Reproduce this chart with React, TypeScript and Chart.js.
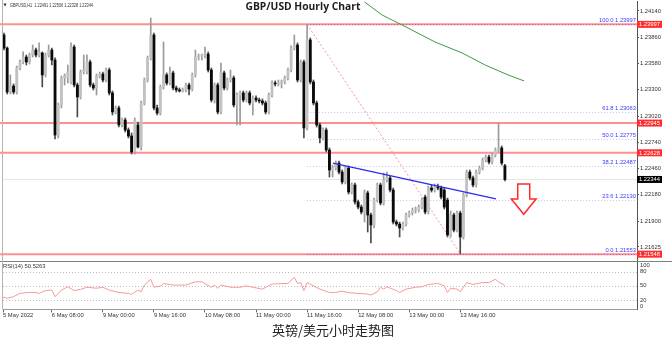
import React, { useEffect, useRef } from "react";
import { Chart, registerables } from "chart.js";

Chart.register(...registerables);

const symbolName = "GBPUSD,H1";
const chartTitle = "GBP/USD Hourly Chart";
const caption = "英镑/美元小时走势图";

const opens = [
  1.23884, 1.23745, 1.23276, 1.2334, 1.23276, 1.23532, 1.23596, 1.23649, 1.23596, 1.23671,
  1.23724, 1.23671, 1.23692, 1.23458, 1.23671, 1.23724, 1.23617, 1.22818, 1.23138, 1.23426,
  1.23426, 1.23383, 1.23756, 1.23351, 1.23223, 1.23489, 1.23489, 1.23596, 1.23351, 1.23319,
  1.23447, 1.23468, 1.23404, 1.23511, 1.23266, 1.23063, 1.23106, 1.22925, 1.22978, 1.22871,
  1.22807, 1.22637, 1.22925, 1.2269, 1.23159, 1.23404, 1.23639, 1.23884, 1.23106, 1.23052,
  1.2333, 1.23458, 1.23372, 1.23479, 1.23319, 1.23298, 1.23287, 1.23298, 1.23351, 1.23308,
  1.23458, 1.23649, 1.2366, 1.23671, 1.23681, 1.23511, 1.23191, 1.23351, 1.23063, 1.23479,
  1.23319, 1.23404, 1.23426, 1.23138, 1.23244, 1.23266, 1.23191, 1.23266, 1.23159, 1.23212,
  1.23191, 1.2318, 1.23159, 1.23063, 1.23244, 1.23372, 1.23362, 1.23372, 1.23383, 1.23426,
  1.23511, 1.23745, 1.23777, 1.23404, 1.23596, 1.22893, 1.23831, 1.23383, 1.23159, 1.22925,
  1.22786, 1.22871, 1.22658, 1.22445, 1.22466, 1.22519, 1.22423, 1.22317, 1.22466, 1.2221,
  1.22285, 1.22104, 1.2205, 1.21997, 1.222, 1.21965, 1.21859, 1.22125, 1.22285, 1.22093,
  1.22338, 1.2236, 1.22232, 1.2189, 1.21869, 1.21827, 1.21869, 1.21965, 1.21986, 1.22018,
  1.22018, 1.2205, 1.22157, 1.21997, 1.22253, 1.22232, 1.22264, 1.22253, 1.22232, 1.22125,
  1.21752, 1.21965, 1.21805, 1.21986, 1.21731, 1.22178, 1.22423, 1.2236, 1.22285, 1.22423,
  1.22466, 1.22551, 1.22583, 1.2253, 1.22605, 1.22658, 1.2268, 1.22491,
];

const highs = [
  1.23905, 1.23756, 1.23458, 1.23362, 1.23553, 1.23617, 1.23703, 1.23671, 1.23692, 1.23777,
  1.23745, 1.23799, 1.23703, 1.23692, 1.23777, 1.23745, 1.23639, 1.23159, 1.23447, 1.23468,
  1.23564, 1.23799, 1.23777, 1.23372, 1.23511, 1.23671, 1.23671, 1.23617, 1.23372, 1.23468,
  1.23489, 1.23489, 1.23532, 1.23532, 1.23287, 1.23127, 1.23127, 1.22999, 1.22999, 1.22893,
  1.22839, 1.22999, 1.22956, 1.2318, 1.23426, 1.2366, 1.24065, 1.23905, 1.23138, 1.23351,
  1.23809, 1.23479, 1.23543, 1.235, 1.2334, 1.23319, 1.23319, 1.23372, 1.23372, 1.23479,
  1.23724, 1.23681, 1.23681, 1.23756, 1.23703, 1.23532, 1.23372, 1.23372, 1.23585, 1.235,
  1.23426, 1.23511, 1.23447, 1.23266, 1.23287, 1.23287, 1.23287, 1.23287, 1.23234, 1.23234,
  1.23212, 1.23202, 1.2318, 1.23266, 1.23394, 1.23394, 1.23404, 1.23404, 1.23447, 1.23532,
  1.23767, 1.23884, 1.23799, 1.23617, 1.23617, 1.23997, 1.23852, 1.23404, 1.2318, 1.22946,
  1.22893, 1.22893, 1.2268, 1.22498, 1.22541, 1.22541, 1.22445, 1.22487, 1.22487, 1.22306,
  1.22306, 1.22125, 1.22072, 1.22232, 1.22221, 1.21986, 1.22146, 1.22306, 1.22306, 1.22413,
  1.22423, 1.22381, 1.22253, 1.21912, 1.2189, 1.2189, 1.21986, 1.22008, 1.2204, 1.2205,
  1.22072, 1.22146, 1.22178, 1.22274, 1.22285, 1.22296, 1.22296, 1.22274, 1.22253, 1.22146,
  1.22008, 1.21986, 1.22008, 1.22008, 1.222, 1.22445, 1.22445, 1.22381, 1.22445, 1.22487,
  1.22573, 1.22605, 1.22605, 1.22626, 1.2268, 1.22945, 1.22701, 1.22506,
];

const lows = [
  1.23724, 1.23255, 1.23255, 1.23255, 1.23255, 1.23511, 1.23575, 1.23564, 1.23575, 1.23649,
  1.23649, 1.23649, 1.2333, 1.23436, 1.23649, 1.23564, 1.22775, 1.22786, 1.23106, 1.23351,
  1.23372, 1.23362, 1.2333, 1.2301, 1.23202, 1.23468, 1.23468, 1.2333, 1.23298, 1.23244,
  1.23426, 1.23383, 1.23383, 1.23244, 1.23031, 1.23042, 1.22903, 1.22903, 1.2285, 1.22786,
  1.22615, 1.22615, 1.2268, 1.22658, 1.23138, 1.23383, 1.23617, 1.23084, 1.23031, 1.23031,
  1.23308, 1.23351, 1.23351, 1.23298, 1.23276, 1.23276, 1.23276, 1.23276, 1.23244, 1.23287,
  1.23436, 1.23617, 1.23617, 1.23639, 1.23489, 1.2317, 1.23159, 1.23042, 1.23042, 1.23298,
  1.23298, 1.23383, 1.23116, 1.22925, 1.22925, 1.2317, 1.2317, 1.23138, 1.23031, 1.2317,
  1.23159, 1.23138, 1.23042, 1.23042, 1.23223, 1.2334, 1.2334, 1.23319, 1.23362, 1.23404,
  1.23489, 1.23724, 1.23383, 1.23383, 1.22786, 1.22871, 1.23362, 1.23138, 1.22903, 1.22733,
  1.22765, 1.22637, 1.2237, 1.2237, 1.22445, 1.22402, 1.22296, 1.22296, 1.22189, 1.22189,
  1.22082, 1.22029, 1.21976, 1.2189, 1.21784, 1.21667, 1.21827, 1.22104, 1.22072, 1.22072,
  1.22317, 1.2221, 1.21869, 1.21848, 1.21731, 1.21805, 1.21848, 1.21944, 1.21965, 1.21986,
  1.21997, 1.22029, 1.21976, 1.21976, 1.2221, 1.2221, 1.22232, 1.22136, 1.22029, 1.21731,
  1.21731, 1.21784, 1.21784, 1.21553, 1.21709, 1.22157, 1.22338, 1.22264, 1.22264, 1.22402,
  1.22445, 1.2253, 1.22509, 1.22509, 1.22583, 1.22637, 1.22498, 1.22328,
];

const closes = [
  1.23745, 1.23276, 1.2334, 1.23276, 1.23532, 1.23596, 1.23649, 1.23596, 1.23671, 1.23724,
  1.23671, 1.23703, 1.23458, 1.23671, 1.23724, 1.23617, 1.22818, 1.23138, 1.23426, 1.23447,
  1.23489, 1.23756, 1.23351, 1.23223, 1.23489, 1.23511, 1.23596, 1.23351, 1.23319, 1.23447,
  1.23468, 1.23404, 1.23511, 1.23266, 1.23063, 1.23106, 1.22925, 1.22978, 1.22871, 1.22807,
  1.22637, 1.22978, 1.2269, 1.23159, 1.23404, 1.23639, 1.23884, 1.23106, 1.23052, 1.2333,
  1.23458, 1.23372, 1.23479, 1.23319, 1.23298, 1.23287, 1.23298, 1.23351, 1.23308, 1.23458,
  1.23649, 1.2366, 1.23671, 1.23681, 1.23511, 1.23191, 1.23351, 1.23063, 1.23479, 1.23319,
  1.23404, 1.23426, 1.23138, 1.23244, 1.23266, 1.23191, 1.23266, 1.23159, 1.23212, 1.23191,
  1.2318, 1.23159, 1.23063, 1.23244, 1.23372, 1.23362, 1.23372, 1.23383, 1.23426, 1.23511,
  1.23745, 1.23777, 1.23404, 1.23596, 1.22893, 1.23831, 1.23383, 1.23159, 1.22925, 1.22786,
  1.22871, 1.22658, 1.22445, 1.22466, 1.22519, 1.22423, 1.22317, 1.22466, 1.2221, 1.22285,
  1.22104, 1.2205, 1.21997, 1.222, 1.21965, 1.21859, 1.22125, 1.22285, 1.22093, 1.22338,
  1.2236, 1.22232, 1.2189, 1.21869, 1.21827, 1.21869, 1.21965, 1.21986, 1.22018, 1.22029,
  1.2205, 1.22125, 1.21997, 1.22253, 1.22232, 1.22264, 1.22253, 1.22157, 1.2205, 1.21752,
  1.21965, 1.21805, 1.21986, 1.21731, 1.22178, 1.22423, 1.2236, 1.22285, 1.22423, 1.22466,
  1.22551, 1.22583, 1.2253, 1.22605, 1.22658, 1.2268, 1.22519, 1.22344,
];

const dateTickIdx = [-0.3, 15, 31, 47, 63, 79, 95, 111, 127, 143];
const dateTickLabels = [
  "5 May 2022", "6 May 08:00", "9 May 00:00", "9 May 16:00", "10 May 08:00",
  "11 May 00:00", "11 May 16:00", "12 May 08:00", "13 May 00:00", "13 May 16:00",
];
const priceTicks = [1.2414, 1.2386, 1.2358, 1.233, 1.2302, 1.2274, 1.2246, 1.2218, 1.219, 1.21625];
const redLevels = [1.23997, 1.22945, 1.22628, 1.21548];
const fibPcts = [100.0, 61.8, 50.0, 38.2, 23.6, 0.0];
const fibPrices = [1.23997, 1.23063, 1.22775, 1.22487, 1.2213, 1.21553];
const fibAnchorIdx = [95, 143];
const fibAnchorPrice = [1.23997, 1.21553];
const trendIdx = [103.1, 154.2];
const trendPrice = [1.22519, 1.22136];
const maIdx = [113, 118.5, 124.8, 135.1, 143.6, 150.8, 158.0, 163.0];
const maPrice = [1.24236, 1.24097, 1.2399, 1.23809, 1.23692, 1.23564, 1.23458, 1.23394];
const bidPrice = 1.22344;
const arrowIdx = 162.9;
const arrowPrice = [1.22296, 1.22136, 1.21973]; // top, neck, tip

const rsiIdx = [
  -0.6, 1, 3, 5, 8, 10, 11, 13, 15, 16, 18, 20, 22, 24, 26, 29, 31, 33, 36, 39,
  40, 42, 43, 44, 46, 47, 49, 50, 53, 57, 60, 62, 65, 66, 67, 68, 71, 74, 76, 78,
  81, 84, 89, 91, 92, 93, 94, 95, 99, 102, 104, 106, 108, 111, 114, 115, 117, 118, 119, 120,
  123, 124, 126, 129, 131, 133, 136, 138, 139, 140, 142, 143, 145, 147, 150, 152, 154, 155, 157,
];
const rsiVals = [
  27, 23.5, 27, 34, 36, 36, 34, 40, 41, 27, 41, 48, 40, 42.5, 47, 45, 47, 41, 36, 34,
  32, 41, 37.5, 51.7, 64, 47, 49.6, 55, 51.7, 51.7, 58.7, 58.7, 47, 51.7, 44.7, 51.7, 47, 47, 50, 47,
  43, 53.8, 55.3, 68, 55.3, 57, 40, 57, 43, 36, 36, 39, 35.4, 34, 32.6, 30.5, 37.5, 47, 43, 48,
  40, 36, 43, 47, 48, 53, 55, 50, 36, 45, 43, 37.5, 57, 53, 57, 57, 64, 58.7, 50.5,
];
const rsiLevels = [20, 50, 80];
const rsiAxisTicks = [100, 80, 50, 20, 0];
const rsiLast = "50.5263";

const AXIS_FONT = '"Liberation Sans", Arial, sans-serif';
const TXT = 5.8;
const X_MIN = -0.31;
const X_MAX = 198.4;

function seg(ctx: any, x1: number, y1: number, x2: number, y2: number) {
  ctx.beginPath();
  ctx.moveTo(x1, y1);
  ctx.lineTo(x2, y2);
  ctx.stroke();
}

const mainOverlay = {
  id: "mainOverlay",
  beforeDatasetsDraw(chart: any) {
    const { ctx, chartArea: ca, scales } = chart;
    const xs = scales.x;
    const ys = scales.y;
    ctx.save();
    ctx.beginPath();
    ctx.rect(0, ca.top, ca.right, ca.bottom - ca.top);
    ctx.clip();
    ctx.strokeStyle = "#e6e6e6";
    ctx.lineWidth = 1;
    const by = Math.round(ys.getPixelForValue(bidPrice)) + 0.5;
    seg(ctx, ca.left, by, ca.right, by);
    ctx.strokeStyle = "rgba(255,85,85,0.65)";
    ctx.lineWidth = 2;
    redLevels.forEach((p) => {
      const yy = ys.getPixelForValue(p);
      seg(ctx, 0, yy, ca.right, yy);
    });
    const fx = xs.getPixelForValue(fibAnchorIdx[0]);
    ctx.lineWidth = 1;
    ctx.setLineDash([1, 2]);
    fibPrices.forEach((p, i) => {
      const yy = Math.round(ys.getPixelForValue(p)) + 0.5;
      ctx.strokeStyle =
        fibPcts[i] === 100 || fibPcts[i] === 0 ? "rgba(150,70,210,0.75)" : "#c6c6f2";
      seg(ctx, fx, yy, ca.right, yy);
    });
    ctx.restore();
  },
  afterDatasetsDraw(chart: any) {
    const { ctx, scales } = chart;
    const xs = scales.x;
    const ys = scales.y;
    const cx = xs.getPixelForValue(arrowIdx);
    const yTop = ys.getPixelForValue(arrowPrice[0]);
    const yNeck = ys.getPixelForValue(arrowPrice[1]);
    const yTip = ys.getPixelForValue(arrowPrice[2]);
    ctx.save();
    ctx.beginPath();
    ctx.moveTo(cx - 6, yTop);
    ctx.lineTo(cx + 6, yTop);
    ctx.lineTo(cx + 6, yNeck);
    ctx.lineTo(cx + 12.4, yNeck);
    ctx.lineTo(cx, yTip);
    ctx.lineTo(cx - 12.4, yNeck);
    ctx.lineTo(cx - 6, yNeck);
    ctx.closePath();
    ctx.fillStyle = "#ffffff";
    ctx.fill();
    ctx.strokeStyle = "#ff2a2a";
    ctx.lineWidth = 1.5;
    ctx.lineJoin = "miter";
    ctx.stroke();
    ctx.restore();
  },
  afterDraw(chart: any) {
    const { ctx, chartArea: ca, scales, width } = chart;
    const ys = scales.y;
    ctx.save();
    ctx.font = `${TXT}px ${AXIS_FONT}`;
    ctx.fillStyle = "#3a3aff";
    ctx.textAlign = "right";
    ctx.textBaseline = "alphabetic";
    fibPrices.forEach((p, i) => {
      const yy = ys.getPixelForValue(p);
      ctx.fillText(`${fibPcts[i].toFixed(1)} ${p.toFixed(5)}`, ca.right - 1, yy - 2);
    });
    const box = (p: number, bg: string) => {
      const yy = ys.getPixelForValue(p);
      ctx.fillStyle = bg;
      ctx.fillRect(ca.right, yy - 3.5, 25, 7);
      ctx.fillStyle = "#ffffff";
      ctx.textAlign = "left";
      ctx.textBaseline = "middle";
      ctx.fillText(p.toFixed(5), ca.right + 2, yy + 0.3);
    };
    redLevels.forEach((p) => box(p, "#ff2d2d"));
    box(bidPrice, "#000000");
    ctx.fillStyle = "#808080";
    ctx.fillRect(0, ca.bottom, width, 1.5);
    ctx.fillStyle = "#b4b4b4";
    ctx.fillRect(2, 0, 1, ca.bottom);
    ctx.fillStyle = "#1e1e1e";
    ctx.font = 'bold 10.3px "Open Sans", sans-serif';
    ctx.textAlign = "left";
    ctx.textBaseline = "alphabetic";
    ctx.fillText(chartTitle, 245.5, 9.5);
    const last = closes.length - 1;
    const head = `${symbolName}  ${opens[last].toFixed(5)} ${highs[last].toFixed(5)} ${lows[last].toFixed(5)} ${closes[last].toFixed(5)}`;
    ctx.fillStyle = "#333333";
    ctx.font = `5.2px ${AXIS_FONT}`;
    const w = ctx.measureText(head).width;
    ctx.save();
    ctx.translate(10, 6.6);
    ctx.scale(83 / w, 1);
    ctx.fillText(head, 0, 0);
    ctx.restore();
    ctx.font = '4px "DejaVu Sans", sans-serif';
    ctx.fillText("▼", 3.5, 6.2);
    ctx.restore();
  },
};

const rsiOverlay = {
  id: "rsiOverlay",
  beforeDatasetsDraw(chart: any) {
    const { ctx, chartArea: ca, scales } = chart;
    const ys = scales.y;
    ctx.save();
    ctx.strokeStyle = "#bdbdbd";
    ctx.lineWidth = 1;
    ctx.setLineDash([1, 2]);
    rsiLevels.forEach((v) => {
      const yy = Math.round(ys.getPixelForValue(v)) + 0.5;
      seg(ctx, ca.left, yy, ca.right, yy);
    });
    ctx.restore();
  },
  afterDraw(chart: any) {
    const { ctx, chartArea: ca, scales } = chart;
    const ys = scales.y;
    ctx.save();
    ctx.font = `${TXT}px ${AXIS_FONT}`;
    ctx.fillStyle = "#333333";
    ctx.textAlign = "left";
    ctx.textBaseline = "middle";
    rsiAxisTicks.forEach((v) => {
      let yy = ys.getPixelForValue(v);
      yy = Math.max(ca.top + 2.8, Math.min(ca.bottom - 3, yy));
      ctx.fillText(String(v), ca.right + 3, yy);
    });
    ctx.fillText(`RSI(14) ${rsiLast}`, 3, ca.top + 4.4);
    ctx.fillStyle = "#b4b4b4";
    ctx.fillRect(2, 0, 1, ca.bottom);
    ctx.restore();
  },
};

export default function App() {
  const mainRef = useRef<HTMLCanvasElement>(null);
  const rsiRef = useRef<HTMLCanvasElement>(null);

  useEffect(() => {
    const idx = closes.map((_, i) => i);
    const main = new Chart(mainRef.current as HTMLCanvasElement, {
      type: "bar",
      data: {
        datasets: [
          {
            type: "line",
            data: maIdx.map((x, i) => ({ x, y: maPrice[i] })),
            borderColor: "#3d9b3d",
            borderWidth: 1,
            pointRadius: 0,
            order: 0,
          } as any,
          {
            type: "line",
            data: trendIdx.map((x, i) => ({ x, y: trendPrice[i] })),
            borderColor: "#2b2bf0",
            borderWidth: 1.3,
            pointRadius: 0,
            order: 0,
          } as any,
          {
            type: "line",
            data: fibAnchorIdx.map((x, i) => ({ x, y: fibAnchorPrice[i] })),
            borderColor: "rgba(255,110,110,0.75)",
            borderDash: [2, 2],
            borderWidth: 1,
            pointRadius: 0,
            order: 3,
          } as any,
          {
            data: idx.map((i) => ({ x: i, y: [lows[i], highs[i]] })),
            backgroundColor: idx.map((i) => (closes[i] >= opens[i] ? "#9a9a9a" : "#4a4a4a")),
            barThickness: 1,
            grouped: false,
            order: 2,
          } as any,
          {
            data: idx.map((i) => ({ x: i, y: [opens[i], closes[i]] })),
            backgroundColor: idx.map((i) => (closes[i] >= opens[i] ? "#c2c2c2" : "#0a0a0a")),
            barThickness: 2.2,
            minBarLength: 1,
            grouped: false,
            order: 1,
          } as any,
        ],
      },
      options: {
        animation: false,
        responsive: false,
        maintainAspectRatio: false,
        layout: { padding: { left: 3, top: 1, right: 0, bottom: 1 } },
        plugins: { legend: { display: false }, tooltip: { enabled: false } },
        scales: {
          x: { type: "linear", min: X_MIN, max: X_MAX, display: false, offset: false },
          y: {
            type: "linear",
            position: "right",
            min: 1.21475,
            max: 1.24246,
            afterFit: (s: any) => {
              s.width = 35;
              s.paddingTop = 0;
              s.paddingBottom = 0;
            },
            afterBuildTicks: (s: any) => {
              s.ticks = priceTicks.map((v) => ({ value: v }));
            },
            ticks: {
              autoSkip: false,
              callback: (v: any) => Number(v).toFixed(5),
              font: { family: AXIS_FONT, size: TXT },
              color: "#333333",
              padding: 1,
            },
            grid: { drawOnChartArea: false, tickLength: 2, color: "#555555" },
            border: { display: true, color: "#555555", width: 1 },
          },
        },
      } as any,
      plugins: [mainOverlay],
    });

    const rsi = new Chart(rsiRef.current as HTMLCanvasElement, {
      type: "line",
      data: {
        datasets: [
          {
            data: rsiIdx.map((x, i) => ({ x, y: rsiVals[i] })),
            borderColor: "#f59a9a",
            borderWidth: 1,
            pointRadius: 0,
          },
        ],
      },
      options: {
        animation: false,
        responsive: false,
        maintainAspectRatio: false,
        layout: { padding: { left: 3, top: 4.3, right: 0, bottom: 0 } },
        plugins: { legend: { display: false }, tooltip: { enabled: false } },
        scales: {
          x: {
            type: "linear",
            min: X_MIN,
            max: X_MAX,
            offset: false,
            afterFit: (s: any) => {
              s.height = 34.6;
              s.paddingLeft = 0;
              s.paddingRight = 0;
            },
            afterBuildTicks: (s: any) => {
              s.ticks = dateTickIdx.map((v) => ({ value: v }));
            },
            ticks: {
              autoSkip: false,
              maxRotation: 0,
              minRotation: 0,
              align: "start",
              padding: 0,
              font: { family: AXIS_FONT, size: TXT },
              color: "#333333",
              callback: (_v: any, i: number) => dateTickLabels[i],
            },
            grid: { drawOnChartArea: false, tickLength: 3, color: "#666666" },
            border: { display: true, color: "#999999", width: 1 },
          },
          y: {
            type: "linear",
            position: "right",
            min: 0,
            max: 100,
            afterFit: (s: any) => {
              s.width = 35;
              s.paddingTop = 0;
              s.paddingBottom = 0;
            },
            ticks: { display: false },
            grid: { display: false },
            border: { display: true, color: "#555555", width: 1 },
          },
        },
      } as any,
      plugins: [rsiOverlay],
    });

    return () => {
      main.destroy();
      rsi.destroy();
    };
  }, []);

  return (
    <div
      style={{
        position: "absolute",
        left: 0,
        top: 0,
        width: 672,
        height: 344,
        background: "#ffffff",
        overflow: "hidden",
      }}
    >
      <canvas
        ref={mainRef}
        width={672}
        height={262}
        style={{ position: "absolute", left: 0, top: 0, width: 672, height: 262 }}
      />
      <canvas
        ref={rsiRef}
        width={672}
        height={86}
        style={{ position: "absolute", left: 0, top: 258, width: 672, height: 86 }}
      />
      <div
        style={{
          position: "absolute",
          left: 272,
          top: 323,
          fontSize: "13px",
          lineHeight: "13px",
          fontFamily: '"Noto Sans CJK SC", sans-serif',
          color: "#222222",
          whiteSpace: "nowrap",
        }}
      >
        {caption}
      </div>
    </div>
  );
}
